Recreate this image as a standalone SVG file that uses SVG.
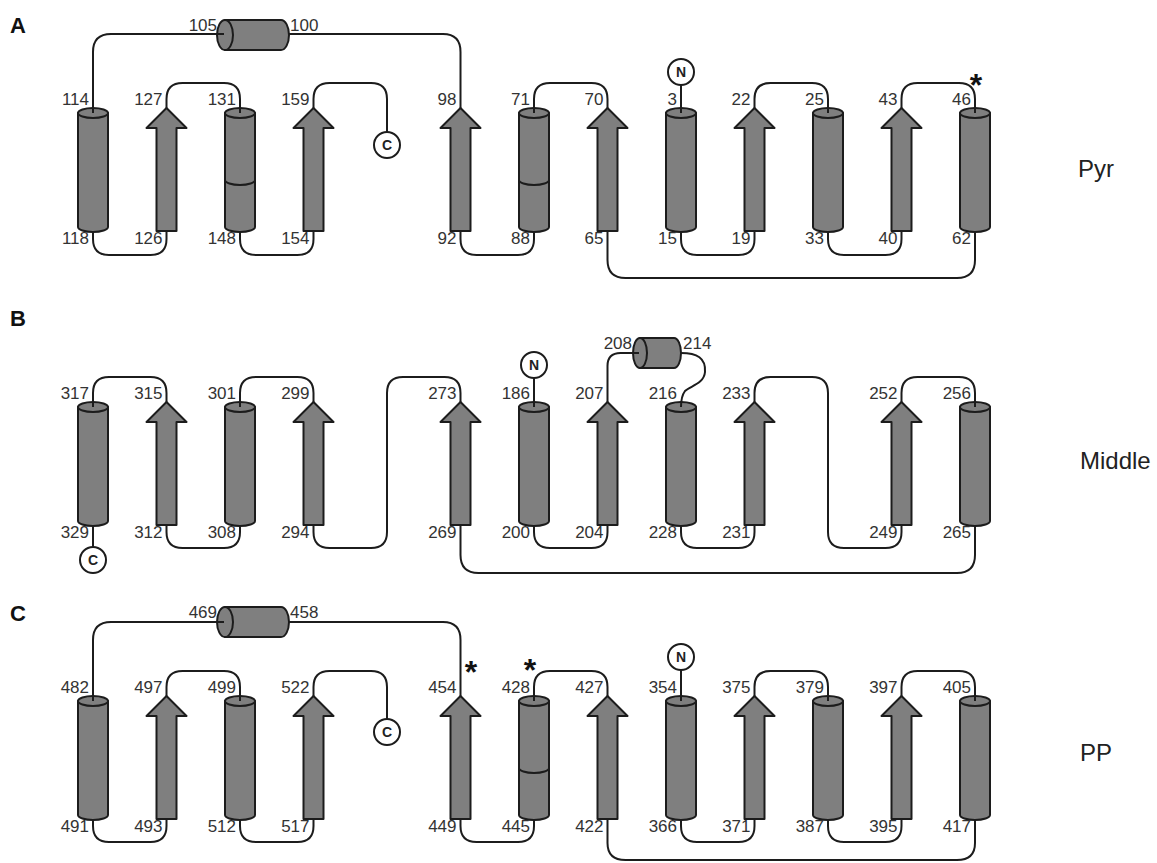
<svg xmlns="http://www.w3.org/2000/svg" xmlns:xlink="http://www.w3.org/1999/xlink" width="1157" height="863" viewBox="0 0 1157 863">
<style>
.sh{fill:#7f7f7f;stroke:#1c1c1c;stroke-width:2;stroke-linejoin:round}
.bd{fill:none;stroke:#1c1c1c;stroke-width:2}
.ln{fill:none;stroke:#1c1c1c;stroke-width:2}
.t{font-family:"Liberation Sans",Arial,sans-serif;font-size:17px;fill:#333}
.e{text-anchor:end}
.ast{font-family:"Liberation Sans",Arial,sans-serif;font-size:32px;font-weight:bold;fill:#111;text-anchor:middle}
.tc{fill:#fff;stroke:#1c1c1c;stroke-width:2}
.tt{font-family:"Liberation Sans",Arial,sans-serif;font-size:14px;font-weight:bold;fill:#222;text-anchor:middle}
.pl{font-family:"Liberation Sans",Arial,sans-serif;font-size:24px;fill:#222}
.pn{font-family:"Liberation Sans",Arial,sans-serif;font-size:22px;font-weight:bold;fill:#111}
</style>
<defs>
<g id="helix"><path class="sh" d="M-15,0 V114 A15,5 0 0 0 15,114 V0 Z"/><ellipse class="sh" cx="0" cy="0" rx="15" ry="5"/></g>
<path id="band" class="bd" d="M-15,67 A15,5 0 0 0 15,67"/>
<polygon id="strand" class="sh" points="0,0 20,20 10,20 10,123 -10,123 -10,20 -20,20"/>
<g id="hhelix"><path class="sh" d="M0,-15 H56 A8,15 0 0 1 56,15 H0 Z"/><ellipse class="sh" cx="0" cy="0" rx="8" ry="15"/></g>
</defs>
<rect width="1157" height="863" fill="#fff"/>

<!-- Panel A -->
<g id="panelA">
<text class="pn" x="10" y="33">A</text>
<text class="pl" x="1078" y="177">Pyr</text>
<g id="A-h105-100"><use href="#hhelix" x="225" y="35"/><text class="t e" x="217" y="31">105</text><text class="t" x="290" y="31">100</text></g>
<g id="A-h114"><use href="#helix" x="93" y="113"/><text class="t e" x="89" y="105">114</text><text class="t e" x="89" y="244">118</text></g>
<g id="A-s127"><use href="#strand" x="166.5" y="108"/><text class="t e" x="162.5" y="105">127</text><text class="t e" x="162.5" y="244">126</text></g>
<g id="A-h131"><use href="#helix" x="240" y="113"/><use href="#band" x="240" y="113"/><text class="t e" x="236" y="105">131</text><text class="t e" x="236" y="244">148</text></g>
<g id="A-s159"><use href="#strand" x="313.5" y="108"/><text class="t e" x="309.5" y="105">159</text><text class="t e" x="309.5" y="244">154</text></g>
<g id="A-C"><circle class="tc" cx="387" cy="145" r="13"/><text class="tt" x="387" y="150">C</text></g>
<g id="A-s98"><use href="#strand" x="460.5" y="108"/><text class="t e" x="456.5" y="105">98</text><text class="t e" x="456.5" y="244">92</text></g>
<g id="A-h71"><use href="#helix" x="534" y="113"/><use href="#band" x="534" y="113"/><text class="t e" x="530" y="105">71</text><text class="t e" x="530" y="244">88</text></g>
<g id="A-s70"><use href="#strand" x="607.5" y="108"/><text class="t e" x="603.5" y="105">70</text><text class="t e" x="603.5" y="244">65</text></g>
<g id="A-h3"><use href="#helix" x="681" y="113"/><text class="t e" x="677" y="105">3</text><text class="t e" x="677" y="244">15</text></g>
<g id="A-N"><circle class="tc" cx="681" cy="72" r="13"/><text class="tt" x="681" y="77">N</text></g>
<g id="A-s22"><use href="#strand" x="754.5" y="108"/><text class="t e" x="750.5" y="105">22</text><text class="t e" x="750.5" y="244">19</text></g>
<g id="A-h25"><use href="#helix" x="828" y="113"/><text class="t e" x="824" y="105">25</text><text class="t e" x="824" y="244">33</text></g>
<g id="A-s43"><use href="#strand" x="901.5" y="108"/><text class="t e" x="897.5" y="105">43</text><text class="t e" x="897.5" y="244">40</text></g>
<g id="A-h46"><use href="#helix" x="975" y="113"/><text class="t e" x="971" y="105">46</text><text class="t e" x="971" y="244">62</text><text class="ast" x="976" y="96">*</text></g>
<g id="A-connectors">
<path class="ln" d="M93,113 V52 Q93,34 111,34 H224"/>
<path class="ln" d="M289,34 H443 Q460.5,34 460.5,52 V108"/>
<path class="ln" d="M93,232 V239 Q93,255 109,255 H150.5 Q166.5,255 166.5,239 V231"/>
<path class="ln" d="M166.5,108 V99 Q166.5,83 182.5,83 H224 Q240,83 240,99 V113"/>
<path class="ln" d="M240,232 V239 Q240,255 256,255 H297.5 Q313.5,255 313.5,239 V231"/>
<path class="ln" d="M313.5,108 V99 Q313.5,83 329.5,83 H371 Q387,83 387,99 V132"/>
<path class="ln" d="M460.5,231 V239 Q460.5,255 476.5,255 H518 Q534,255 534,239 V232"/>
<path class="ln" d="M534,113 V99 Q534,83 550,83 H591.5 Q607.5,83 607.5,99 V108"/>
<path class="ln" d="M607.5,231 V260 Q607.5,278 625.5,278 H957 Q975,278 975,260 V232"/>
<path class="ln" d="M681,85 V113"/>
<path class="ln" d="M681,232 V239 Q681,255 697,255 H738.5 Q754.5,255 754.5,239 V231"/>
<path class="ln" d="M754.5,108 V99 Q754.5,83 770.5,83 H812 Q828,83 828,99 V113"/>
<path class="ln" d="M828,232 V239 Q828,255 844,255 H885.5 Q901.5,255 901.5,239 V231"/>
<path class="ln" d="M901.5,108 V99 Q901.5,83 917.5,83 H959 Q975,83 975,99 V113"/>
</g>
</g>

<!-- Panel B -->
<g id="panelB">
<text class="pn" x="10" y="326">B</text>
<text class="pl" x="1080" y="469">Middle</text>
<g id="B-h317"><use href="#helix" x="93" y="407"/><text class="t e" x="89" y="399">317</text><text class="t e" x="89" y="538">329</text></g>
<g id="B-C"><circle class="tc" cx="93" cy="560" r="13"/><text class="tt" x="93" y="565">C</text></g>
<g id="B-s315"><use href="#strand" x="166.5" y="402"/><text class="t e" x="162.5" y="399">315</text><text class="t e" x="162.5" y="538">312</text></g>
<g id="B-h301"><use href="#helix" x="240" y="407"/><text class="t e" x="236" y="399">301</text><text class="t e" x="236" y="538">308</text></g>
<g id="B-s299"><use href="#strand" x="313.5" y="402"/><text class="t e" x="309.5" y="399">299</text><text class="t e" x="309.5" y="538">294</text></g>
<g id="B-s273"><use href="#strand" x="460.5" y="402"/><text class="t e" x="456.5" y="399">273</text><text class="t e" x="456.5" y="538">269</text></g>
<g id="B-h186"><use href="#helix" x="534" y="407"/><text class="t e" x="530" y="399">186</text><text class="t e" x="530" y="538">200</text></g>
<g id="B-N"><circle class="tc" cx="534" cy="365" r="13"/><text class="tt" x="534" y="370">N</text></g>
<g id="B-s207"><use href="#strand" x="607.5" y="402"/><text class="t e" x="603.5" y="399">207</text><text class="t e" x="603.5" y="538">204</text></g>
<g id="B-h208-214"><path class="sh" d="M640,338 H674 A7,15 0 0 1 674,368 H640 Z"/><ellipse class="sh" cx="640" cy="353" rx="7" ry="15"/><text class="t e" x="632" y="349">208</text><text class="t" x="683" y="349">214</text></g>
<g id="B-h216"><use href="#helix" x="681" y="407"/><text class="t e" x="677" y="399">216</text><text class="t e" x="677" y="538">228</text></g>
<g id="B-s233"><use href="#strand" x="754.5" y="402"/><text class="t e" x="750.5" y="399">233</text><text class="t e" x="750.5" y="538">231</text></g>
<g id="B-s252"><use href="#strand" x="901.5" y="402"/><text class="t e" x="897.5" y="399">252</text><text class="t e" x="897.5" y="538">249</text></g>
<g id="B-h256"><use href="#helix" x="975" y="407"/><text class="t e" x="971" y="399">256</text><text class="t e" x="971" y="538">265</text></g>
<g id="B-connectors">
<path class="ln" d="M93,526 V547"/>
<path class="ln" d="M93,407 V393 Q93,377 109,377 H150.5 Q166.5,377 166.5,393 V402"/>
<path class="ln" d="M166.5,525 V532 Q166.5,548 182.5,548 H224 Q240,548 240,532 V526"/>
<path class="ln" d="M240,407 V393 Q240,377 256,377 H297.5 Q313.5,377 313.5,393 V402"/>
<path class="ln" d="M313.5,525 V532 Q313.5,548 329.5,548 H371 Q387,548 387,532 V393 Q387,377 403,377 H444.5 Q460.5,377 460.5,393 V402"/>
<path class="ln" d="M460.5,525 V555 Q460.5,573 478.5,573 H957 Q975,573 975,555 V526"/>
<path class="ln" d="M534,378 V407"/>
<path class="ln" d="M534,526 V532 Q534,548 550,548 H591.5 Q607.5,548 607.5,532 V525"/>
<path class="ln" d="M607.5,402 V366 Q607.5,353 620.5,353 H639"/>
<path class="ln" d="M681,353 C697,353 706,358 705,372 C704,384 690,386 685,391 C682,395 681,400 681,407"/>
<path class="ln" d="M681,526 V532 Q681,548 697,548 H738.5 Q754.5,548 754.5,532 V525"/>
<path class="ln" d="M754.5,402 V393 Q754.5,377 770.5,377 H812 Q828,377 828,393 V532 Q828,548 844,548 H885.5 Q901.5,548 901.5,532 V525"/>
<path class="ln" d="M901.5,402 V393 Q901.5,377 917.5,377 H959 Q975,377 975,393 V407"/>
</g>
</g>

<!-- Panel C -->
<g id="panelC">
<text class="pn" x="10" y="621">C</text>
<text class="pl" x="1080" y="761">PP</text>
<g id="C-h469-458"><use href="#hhelix" x="225" y="622"/><text class="t e" x="217" y="618">469</text><text class="t" x="290" y="618">458</text></g>
<g id="C-h482"><use href="#helix" x="93" y="701"/><text class="t e" x="89" y="693">482</text><text class="t e" x="89" y="832">491</text></g>
<g id="C-s497"><use href="#strand" x="166.5" y="696"/><text class="t e" x="162.5" y="693">497</text><text class="t e" x="162.5" y="832">493</text></g>
<g id="C-h499"><use href="#helix" x="240" y="701"/><text class="t e" x="236" y="693">499</text><text class="t e" x="236" y="832">512</text></g>
<g id="C-s522"><use href="#strand" x="313.5" y="696"/><text class="t e" x="309.5" y="693">522</text><text class="t e" x="309.5" y="832">517</text></g>
<g id="C-C"><circle class="tc" cx="387" cy="732" r="13"/><text class="tt" x="387" y="737">C</text></g>
<g id="C-s454"><use href="#strand" x="460.5" y="696"/><text class="t e" x="456.5" y="693">454</text><text class="t e" x="456.5" y="832">449</text><text class="ast" x="471" y="683">*</text></g>
<g id="C-h428"><use href="#helix" x="534" y="701"/><use href="#band" x="534" y="701"/><text class="t e" x="530" y="693">428</text><text class="t e" x="530" y="832">445</text><text class="ast" x="530" y="681">*</text></g>
<g id="C-s427"><use href="#strand" x="607.5" y="696"/><text class="t e" x="603.5" y="693">427</text><text class="t e" x="603.5" y="832">422</text></g>
<g id="C-h354"><use href="#helix" x="681" y="701"/><text class="t e" x="677" y="693">354</text><text class="t e" x="677" y="832">366</text></g>
<g id="C-N"><circle class="tc" cx="681" cy="657" r="13"/><text class="tt" x="681" y="662">N</text></g>
<g id="C-s375"><use href="#strand" x="754.5" y="696"/><text class="t e" x="750.5" y="693">375</text><text class="t e" x="750.5" y="832">371</text></g>
<g id="C-h379"><use href="#helix" x="828" y="701"/><text class="t e" x="824" y="693">379</text><text class="t e" x="824" y="832">387</text></g>
<g id="C-s397"><use href="#strand" x="901.5" y="696"/><text class="t e" x="897.5" y="693">397</text><text class="t e" x="897.5" y="832">395</text></g>
<g id="C-h405"><use href="#helix" x="975" y="701"/><text class="t e" x="971" y="693">405</text><text class="t e" x="971" y="832">417</text></g>
<g id="C-connectors">
<path class="ln" d="M93,701 V640 Q93,622 111,622 H224"/>
<path class="ln" d="M289,622 H443 Q460.5,622 460.5,640 V696"/>
<path class="ln" d="M93,820 V826 Q93,842 109,842 H150.5 Q166.5,842 166.5,826 V819"/>
<path class="ln" d="M166.5,696 V687 Q166.5,671 182.5,671 H224 Q240,671 240,687 V701"/>
<path class="ln" d="M240,820 V826 Q240,842 256,842 H297.5 Q313.5,842 313.5,826 V819"/>
<path class="ln" d="M313.5,696 V687 Q313.5,671 329.5,671 H371 Q387,671 387,687 V719"/>
<path class="ln" d="M460.5,819 V826 Q460.5,842 476.5,842 H518 Q534,842 534,826 V820"/>
<path class="ln" d="M534,701 V687 Q534,671 550,671 H591.5 Q607.5,671 607.5,687 V696"/>
<path class="ln" d="M607.5,819 V843 Q607.5,860 625.5,860 H957 Q975,860 975,843 V820"/>
<path class="ln" d="M681,670 V701"/>
<path class="ln" d="M681,820 V826 Q681,842 697,842 H738.5 Q754.5,842 754.5,826 V819"/>
<path class="ln" d="M754.5,696 V687 Q754.5,671 770.5,671 H812 Q828,671 828,687 V701"/>
<path class="ln" d="M828,820 V826 Q828,842 844,842 H885.5 Q901.5,842 901.5,826 V819"/>
<path class="ln" d="M901.5,696 V687 Q901.5,671 917.5,671 H959 Q975,671 975,687 V701"/>
</g>
</g>
</svg>
